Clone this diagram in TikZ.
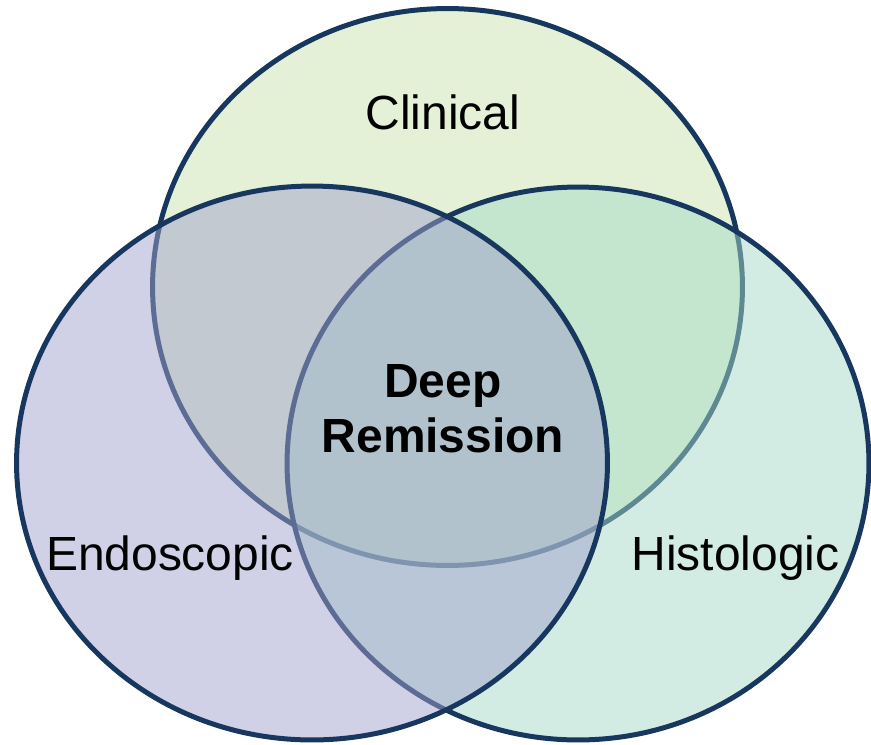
\documentclass[tikz,border=0pt]{standalone}
\usepackage{fontspec}
\setmainfont{Liberation Sans}
\usetikzlibrary{shapes.geometric}

\definecolor{vennline}{RGB}{23,55,94}
\definecolor{clinicalfill}{RGB}{201,227,173}
\definecolor{histofill}{RGB}{165,217,199}
\definecolor{endofill}{RGB}{161,161,205}

\begin{document}
\begin{tikzpicture}[x=0.02cm, y=-0.02cm,
	venn/.style = { ellipse, draw=vennline, line width=0.1cm,
			fill opacity=0.5, inner sep=0pt },
	vennlabel/.style = { anchor=base, inner sep=0pt,
			font=\fontsize{27.3}{31.3}\selectfont },
	centrelabel/.style = { align=center, inner sep=0pt,
			font=\fontsize{27.3}{31.3}\selectfont\bfseries }]

  \useasboundingbox (0,0) rectangle (871,744);

  \node[name=clinical, venn, fill=clinicalfill,
	minimum width=11.80cm, minimum height=11.14cm] at (447.5,287) {};
  \node[name=histologic, venn, fill=histofill,
	minimum width=11.64cm, minimum height=11.06cm] at (578,463.5) {};
  \node[name=endoscopic, venn, fill=endofill,
	minimum width=11.82cm, minimum height=11.08cm] at (312,463) {};

  \node[name=clinicaltxt, vennlabel] at (443,129) {Clinical};
  \node[name=endotxt, vennlabel] at (170,570) {Endoscopic};
  \node[name=histotxt, vennlabel] at (735.5,570) {Histologic};
  \node[name=deep, centrelabel] at (443,408.5) {Deep\\Remission};
\end{tikzpicture}
\end{document}
